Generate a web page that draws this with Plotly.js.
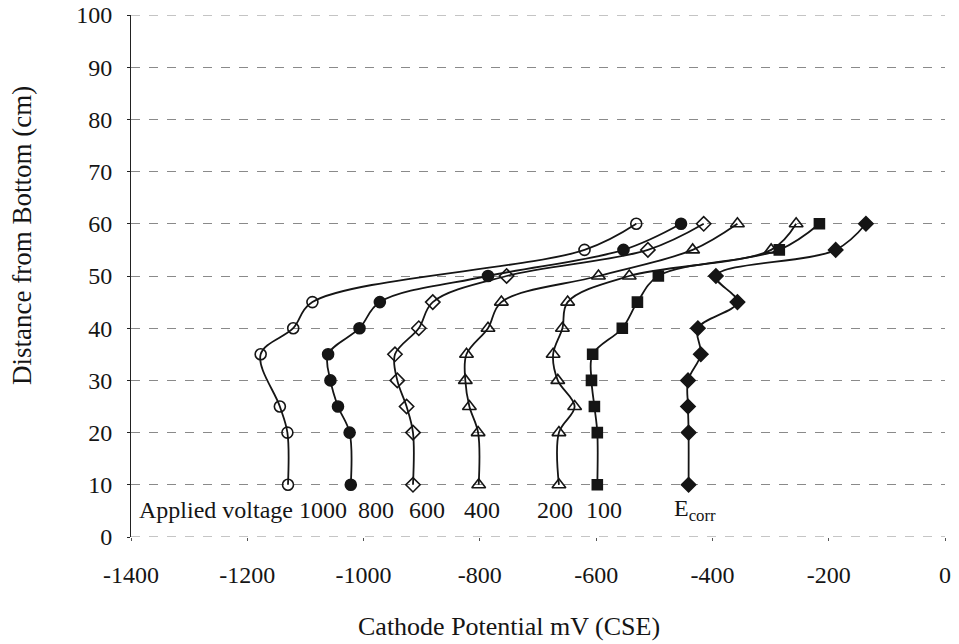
<!DOCTYPE html>
<html>
<head>
<meta charset="utf-8">
<script src="https://cdn.plot.ly/plotly-3.0.1.min.js"></script>
<style>html,body{margin:0;padding:0;background:#fff;}#chart{width:959px;height:644px;}
#chart .xtick text, #chart .ytick text { font-family: "Liberation Serif", serif !important; }
</style>
</head>
<body>
<div id="chart"></div>
<script>
// Heights (cm from bottom)
const heights = [10, 20, 25, 30, 35, 40, 45, 50, 55, 60];
const heights1000 = [10, 20, 25, 35, 40, 45, 55, 60];

// Cathode potential (mV CSE) per applied voltage
const v1000 = [-1130, -1131, -1144, -1177, -1121, -1088, -620, -531];
const v800  = [-1022, -1024, -1044, -1057, -1061, -1007, -972, -786, -553, -454];
const v600  = [-915, -915, -926, -942, -946, -905, -881, -754, -511, -415];
const v400  = [-802, -803, -818, -825, -823, -786, -763, -596, -434, -357];
const v200  = [-664, -664, -637, -666, -674, -658, -649, -543, -299, -256];
const v100  = [-598, -598, -603, -608, -606, -555, -529, -493, -285, -216];
const vEcorr = [-441, -441, -442, -442, -420, -425, -357, -394, -188, -136];

const seriesNames = ['1000', '800', '600', '400', '200', '100', 'E<sub>corr</sub>'];
const xTickVals = [-1400, -1200, -1000, -800, -600, -400, -200, 0];
const xTickText = ['-1400', '-1200', '-1000', '-800', '-600', '-400', '-200', '0'];
const yTickVals = [0, 10, 20, 30, 40, 50, 60, 70, 80, 90, 100];
const yTickText = ['0', '10', '20', '30', '40', '50', '60', '70', '80', '90', '100'];
const edgeGrid = [0, 100];
const xTitle = 'Cathode Potential mV (CSE)';
const yTitle = 'Distance from Bottom (cm)';
const labelLead = 'Applied voltage';

const FONT = 'Liberation Serif';
const INK = '#151515';

function tr(x, y, name, symbol, size) {
  return {
    x: x, y: y, name: name, type: 'scatter', mode: 'lines+markers',
    line: {color: INK, width: 1.8, shape: 'spline', smoothing: 1},
    marker: {symbol: symbol, size: size, color: INK, line: {color: INK, width: 1.6}},
    showlegend: false
  };
}

const data = [
  tr(v1000, heights1000, seriesNames[0], 'circle-open', 11),
  tr(v800, heights, seriesNames[1], 'circle', 11),
  tr(v600, heights, seriesNames[2], 'diamond-open', 11),
  tr(v400, heights, seriesNames[3], 'triangle-up-open', 12),
  tr(v200, heights, seriesNames[4], 'triangle-up-open', 12),
  tr(v100, heights, seriesNames[5], 'square', 10),
  tr(vEcorr, heights, seriesNames[6], 'diamond', 11)
];

// label positions (x in data units) for the in-plot series labels
const labelX = [-1070, -979, -891, -797, -671, -586, -469];
const annotations = [
  {x: -1389, y: 5.2, xref: 'x', yref: 'y', text: labelLead, showarrow: false, xanchor: 'left', yanchor: 'middle', font: {family: FONT, size: 24, color: INK}}
];
seriesNames.forEach((n, i) => {
  annotations.push({x: labelX[i], y: 5.2, xref: 'x', yref: 'y', text: n, showarrow: false,
    xanchor: i === 6 ? 'left' : 'center', yanchor: 'middle', font: {family: FONT, size: 24, color: INK}});
});
annotations.push({x: 0.4644, y: -0.1724, xref: 'paper', yref: 'paper', text: xTitle, showarrow: false,
  xanchor: 'center', yanchor: 'middle', font: {family: FONT, size: 26, color: INK}});
annotations.push({x: -0.134, y: 0.5785, xref: 'paper', yref: 'paper', text: yTitle, showarrow: false, textangle: -90,
  xanchor: 'center', yanchor: 'middle', font: {family: FONT, size: 27, color: INK}});

const shapes = edgeGrid.map(v => ({
  type: 'line', xref: 'paper', yref: 'y', x0: 0, x1: 1, y0: v, y1: v,
  line: {color: '#8a8a8a', width: 1, dash: 'dash'}, layer: 'below'
}));

const layout = {
  width: 959, height: 644,
  margin: {l: 131, r: 14, t: 15, b: 107},
  paper_bgcolor: '#fff', plot_bgcolor: '#fff',
  font: {family: FONT, size: 24, color: INK},
  xaxis: {
    range: [-1400, 0], tickmode: 'array', tickvals: xTickVals, ticktext: xTickText,
    showgrid: false, zeroline: false, showline: false,
    ticks: 'outside', ticklen: 3, tickcolor: '#555', ticklabelstandoff: 13,
    tickfont: {family: FONT, size: 24, color: INK}
  },
  yaxis: {
    range: [0, 100], tickmode: 'array', tickvals: yTickVals, ticktext: yTickText,
    showgrid: true, gridcolor: '#8a8a8a', gridwidth: 1, griddash: 'dash',
    zeroline: false, showline: true, linecolor: '#222', linewidth: 1,
    ticks: 'outside', ticklen: 3, tickcolor: '#222', ticklabelstandoff: 10,
    tickfont: {family: FONT, size: 24, color: INK}
  },
  shapes: shapes,
  annotations: annotations
};

Plotly.newPlot('chart', data, layout, {displayModeBar: false, staticPlot: true});
</script>
</body>
</html>
